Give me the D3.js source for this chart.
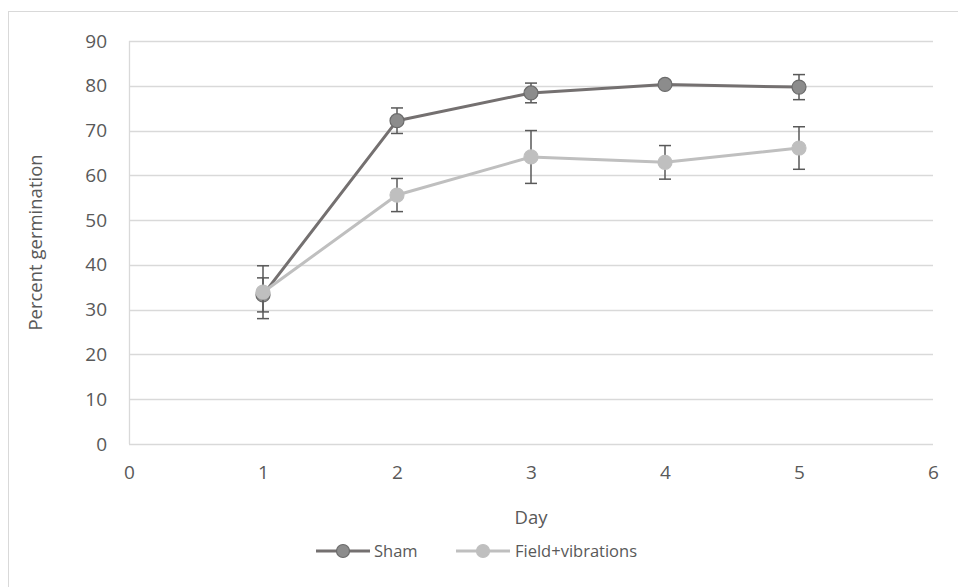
<!DOCTYPE html>
<html><head><meta charset="utf-8">
<script src="https://cdn.jsdelivr.net/npm/d3@7/dist/d3.min.js"></script>
<style>body{margin:0;background:#fff}svg{display:block}text{font-family:"Open Sans","Liberation Sans",sans-serif;fill:#595959}</style>
</head><body><svg id="c" width="958" height="587"></svg>
<script>
const days = [1, 2, 3, 4, 5];
const shamValues = [33.3, 72.2, 78.4, 80.3, 79.7];
const shamErrors = [3.8, 2.85, 2.2, 0.5, 2.8];
const fieldValues = [33.9, 55.6, 64.1, 62.9, 66.1];
const fieldErrors = [5.9, 3.7, 5.9, 3.75, 4.75];
const xTicks = [0, 1, 2, 3, 4, 5, 6];
const yTicks = [0, 10, 20, 30, 40, 50, 60, 70, 80, 90];
const seriesNames = ["Sham", "Field+vibrations"];

const FONT = '"Open Sans","Liberation Sans",sans-serif';
const svg = d3.select("#c");
svg.append("rect").attr("x", 8.5).attr("y", 11.5).attr("width", 960).attr("height", 600)
  .attr("fill", "none").attr("stroke", "#d9d9d9").attr("stroke-width", 1);

const x = d3.scaleLinear().domain([0, 6]).range([129, 933]);
const y = d3.scaleLinear().domain([0, 90]).range([444, 41]);

const g = svg.append("g");
g.selectAll(".grid").data(yTicks).join("line")
  .attr("x1", x(0)).attr("x2", x(6)).attr("y1", d => Math.round(y(d)) + 0.5).attr("y2", d => Math.round(y(d)) + 0.5)
  .attr("stroke", "#d9d9d9").attr("stroke-width", 1.3);
g.append("line").attr("x1", x(0) + 0.5).attr("x2", x(0) + 0.5).attr("y1", y(90)).attr("y2", y(0))
  .attr("stroke", "#d9d9d9").attr("stroke-width", 1.3);

const yAxis = d3.axisLeft(y).tickValues(yTicks).tickFormat(d3.format("d")).tickSize(0).tickPadding(22);
const ya = svg.append("g").attr("transform", `translate(${x(0)},0)`).call(yAxis);
ya.select(".domain").remove();
ya.selectAll("text").style("font-size", "19px").attr("fill", "#595959").style("font-family", FONT);

const xAxis = d3.axisBottom(x).tickValues(xTicks).tickFormat(d3.format("d")).tickSize(0).tickPadding(22);
const xa = svg.append("g").attr("transform", `translate(0,${y(0)})`).call(xAxis);
xa.select(".domain").remove();
xa.selectAll("text").style("font-size", "19px").attr("fill", "#595959").style("font-family", FONT);

svg.append("text").attr("x", x(3)).attr("y", 524).attr("text-anchor", "middle").style("font-size", "18.5px").text("Day");
svg.append("text").attr("transform", `translate(42,${y(45)}) rotate(-90)`).attr("text-anchor", "middle").style("font-size", "18.5px").text("Percent germination");

const series = [
  {name: seriesNames[0], values: shamValues, errors: shamErrors, line: "#747070", fill: "#8c8c8c", stroke: "#6b6b6b"},
  {name: seriesNames[1], values: fieldValues, errors: fieldErrors, line: "#bfbfbf", fill: "#bfbfbf", stroke: "#bfbfbf"}
];

const lineGen = d3.line().x(d => x(d[0])).y(d => y(d[1]));

series.forEach(s => {
  const pts = days.map((d, i) => [d, s.values[i], s.errors[i]]);
  g.append("path").datum(pts).attr("d", lineGen).attr("fill", "none")
    .attr("stroke", s.line).attr("stroke-width", 3).attr("stroke-linejoin", "round");
  const eb = g.append("g").attr("stroke", "#595959").attr("stroke-width", 1.5);
  pts.forEach(p => {
    eb.append("line").attr("x1", x(p[0])).attr("x2", x(p[0])).attr("y1", y(p[1] + p[2])).attr("y2", y(p[1] - p[2]));
    [p[1] + p[2], p[1] - p[2]].forEach(v => {
      eb.append("line").attr("x1", x(p[0]) - 6).attr("x2", x(p[0]) + 6).attr("y1", y(v)).attr("y2", y(v));
    });
  });
  g.selectAll(null).data(pts).join("circle")
    .attr("cx", d => x(d[0])).attr("cy", d => y(d[1])).attr("r", 7)
    .attr("fill", s.fill).attr("stroke", s.stroke).attr("stroke-width", 1.2);
});

const legendItems = [
  {s: series[0], x0: 316, tx: 374},
  {s: series[1], x0: 456, tx: 515}
];
legendItems.forEach(L => {
  const ly = 551;
  svg.append("line").attr("x1", L.x0).attr("x2", L.x0 + 54).attr("y1", ly).attr("y2", ly)
    .attr("stroke", L.s.line).attr("stroke-width", 3);
  svg.append("circle").attr("cx", L.x0 + 27).attr("cy", ly).attr("r", 6.5)
    .attr("fill", L.s.fill).attr("stroke", L.s.stroke).attr("stroke-width", 1.2);
  svg.append("text").attr("x", L.tx).attr("y", ly + 6).style("font-size", "16.5px").text(L.s.name);
});
</script></body></html>
